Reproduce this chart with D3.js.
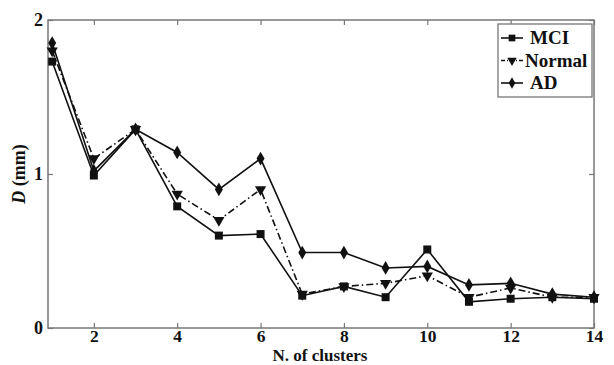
<!DOCTYPE html>
<html><head><meta charset="utf-8">
<script src="https://cdn.jsdelivr.net/npm/d3@7"></script>
<style>body{margin:0;background:#fff}svg{display:block}</style>
</head><body>
<script>
const clusters = [1,2,3,4,5,6,7,8,9,10,11,12,13,14];
const mci    = [1.73,0.99,1.29,0.79,0.60,0.61,0.21,0.27,0.20,0.51,0.17,0.19,0.20,0.19];
const normal = [1.80,1.10,1.29,0.87,0.70,0.90,0.22,0.27,0.29,0.34,0.20,0.26,0.20,0.20];
const ad     = [1.85,1.02,1.29,1.14,0.90,1.10,0.49,0.49,0.39,0.40,0.28,0.29,0.22,0.20];
const xTicks = [2,4,6,8,10,12,14];
const yTicks = [0,1,2];
const seriesNames = ["MCI","Normal","AD"];

const W=614,H=365;
const m={l:48,t:20,r:20,b:37};
const svg=d3.select("body").append("svg").attr("width",W).attr("height",H);
const x=d3.scaleLinear().domain([0.9,14]).range([m.l,W-m.r]);
const y=d3.scaleLinear().domain([0,2]).range([H-m.b,m.t]);
const font="Liberation Serif, Times New Roman, serif";
const axisCol="#777";

// frame
svg.append("rect").attr("x",x.range()[0]).attr("y",y.range()[1])
  .attr("width",x.range()[1]-x.range()[0]).attr("height",y.range()[0]-y.range()[1])
  .attr("fill","none").attr("stroke",axisCol).attr("stroke-width",1.5);

const gx=svg.append("g").attr("transform",`translate(0,${y(0)})`)
  .call(d3.axisBottom(x).tickValues(xTicks).tickSizeInner(-5).tickSizeOuter(0).tickPadding(2).tickFormat(d3.format("d")));
const gxt=svg.append("g").attr("transform",`translate(0,${y(2)})`)
  .call(d3.axisTop(x).tickValues(xTicks).tickSizeInner(-5).tickSizeOuter(0).tickFormat(""));
const gy=svg.append("g").attr("transform",`translate(${x.range()[0]},0)`)
  .call(d3.axisLeft(y).tickValues(yTicks).tickSizeInner(-5).tickSizeOuter(0).tickPadding(5).tickFormat(d3.format("d")));
const gyr=svg.append("g").attr("transform",`translate(${x.range()[1]},0)`)
  .call(d3.axisRight(y).tickValues(yTicks).tickSizeInner(-5).tickSizeOuter(0).tickFormat(""));
[gx,gxt,gy,gyr].forEach(g=>{
  g.select(".domain").remove();
  g.selectAll("line").attr("stroke",axisCol).attr("stroke-width",1.2);
  g.selectAll("text").attr("font-family",font).attr("font-weight","bold")
   .attr("font-size",18).attr("fill","#111");
});
gx.selectAll("text").attr("font-size",17.5);

const data=[
  {name:"MCI",vals:mci,dash:null,sym:d3.symbolSquare,size:64,rot:0},
  {name:"Normal",vals:normal,dash:"7,3,1.5,3",sym:d3.symbolTriangle,size:55,rot:180},
  {name:"AD",vals:ad,dash:null,sym:d3.symbolDiamond,size:55,rot:0}
];
const line=d3.line().x((d,i)=>x(clusters[i])).y(d=>y(d));
data.forEach(s=>{
  svg.append("path").datum(s.vals).attr("d",line).attr("fill","none")
    .attr("stroke","#111").attr("stroke-width",1.6)
    .attr("stroke-dasharray",s.dash);
  svg.append("g").selectAll("path").data(s.vals).join("path")
    .attr("d",d3.symbol().type(s.sym).size(s.size))
    .attr("transform",(d,i)=>`translate(${x(clusters[i])},${y(d)}) rotate(${s.rot})`)
    .attr("fill","#111");
});

// legend
const lg=svg.append("g");
lg.append("rect").attr("x",498).attr("y",24).attr("width",94).attr("height",73)
  .attr("fill","#fff").attr("stroke",axisCol).attr("stroke-width",1.3);
data.forEach((s,i)=>{
  const yy=38+i*22.5;
  lg.append("line").attr("x1",501).attr("x2",523).attr("y1",yy).attr("y2",yy)
    .attr("stroke","#111").attr("stroke-width",1.6).attr("stroke-dasharray",s.dash?"4,2,1,2":null);
  lg.append("path").attr("d",d3.symbol().type(s.sym).size(s.size*0.7))
    .attr("transform",`translate(512,${yy}) rotate(${s.rot})`).attr("fill","#111");
  lg.append("text").attr("x",i===1?525:530).attr("y",yy+6).text(seriesNames[i])
    .attr("font-family",font).attr("font-weight","bold").attr("font-size",19).attr("fill","#111");
});

// axis labels
svg.append("text").attr("x",320).attr("y",361).attr("text-anchor","middle")
  .attr("font-family",font).attr("font-weight","bold").attr("font-size",17).attr("fill","#111")
  .text("N. of clusters");
const yl=svg.append("text").attr("transform",`translate(25,${y(1)}) rotate(-90)`)
  .attr("text-anchor","middle").attr("font-family",font).attr("font-weight","bold")
  .attr("font-size",18).attr("fill","#111");
yl.append("tspan").attr("font-style","italic").text("D");
yl.append("tspan").text(" (mm)");
</script>
</body></html>
